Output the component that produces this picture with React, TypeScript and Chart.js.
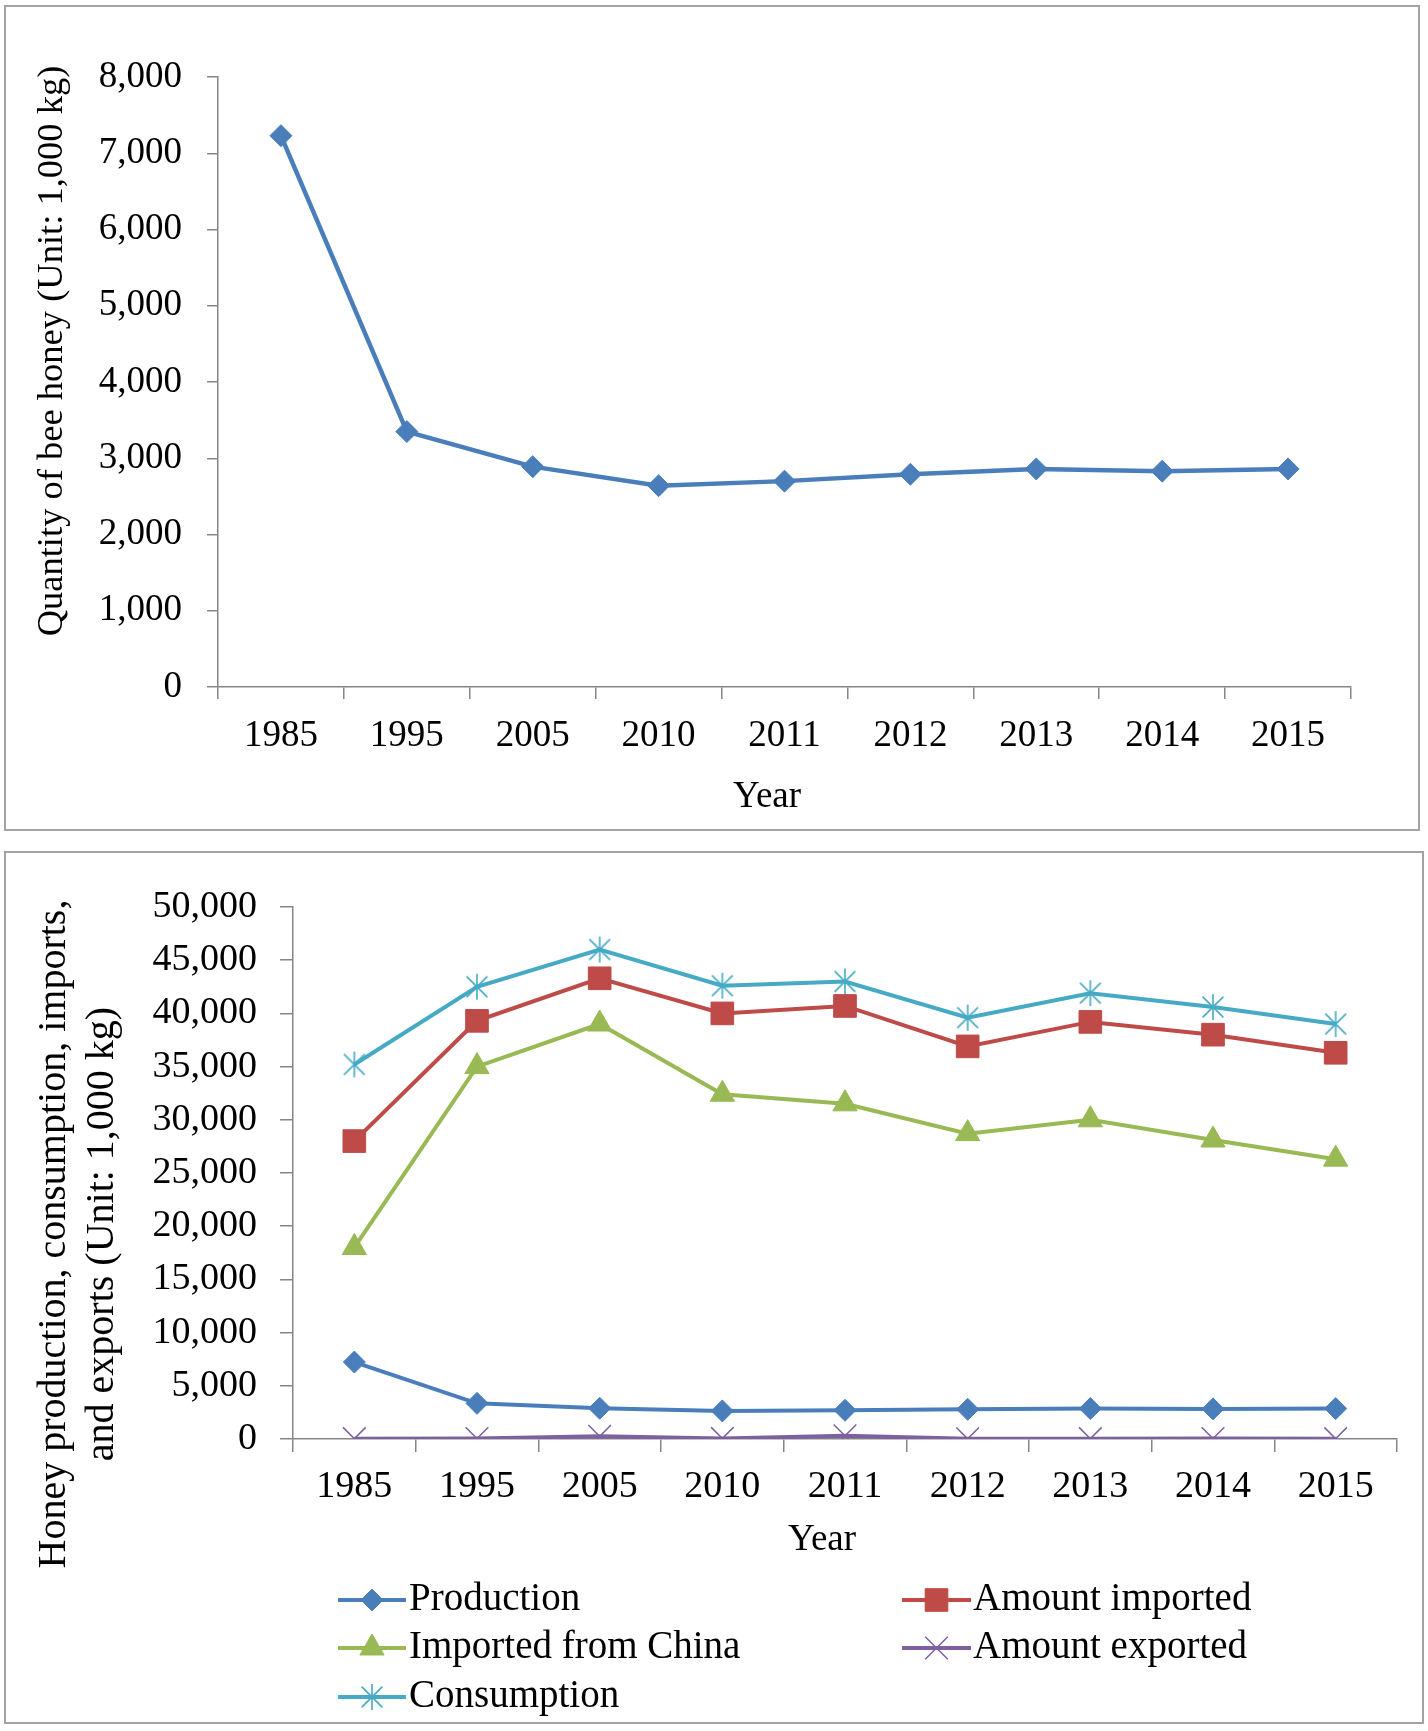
import React, { useEffect, useRef } from 'react';
import { Chart, registerables } from 'chart.js';
import { drawPoint } from 'chart.js/helpers';

Chart.register(...registerables);

// ---------------- DATA ----------------
const years = ['1985', '1995', '2005', '2010', '2011', '2012', '2013', '2014', '2015'];
const production = [7230, 3350, 2890, 2640, 2700, 2790, 2860, 2830, 2860];
const amountImported = [28000, 39300, 43300, 40000, 40700, 36900, 39200, 38000, 36300];
const importedFromChina = [18000, 35000, 39000, 32400, 31500, 28700, 30000, 28100, 26300];
const amountExported = [30, 40, 250, 50, 300, 20, 30, 40, 30];
const consumption = [35200, 42500, 46000, 42600, 43000, 39600, 41900, 40600, 39000];

const topYMax = 8000;
const topYStep = 1000;
const bottomYMax = 50000;
const bottomYStep = 5000;

const topYTitle = 'Quantity of bee honey (Unit: 1,000 kg)';
const bottomYTitle = ['Honey production, consumption, imports,', 'and exports (Unit: 1,000 kg)'];
const xTitle = 'Year';
const seriesNames = ['Production', 'Amount imported', 'Imported from China', 'Amount exported', 'Consumption'];

// ---------------- STYLE ----------------
const SERIF = '"Liberation Serif", "Times New Roman", Times, serif';
const AXIS = '#868686';
const BLUE = '#4A7EBB';
const RED = '#BE4B48';
const GREEN = '#98B954';
const PURPLE = '#7D60A0';
const CYAN = '#46AAC5';

function makeAsterisk(color: string, r: number, lw: number): HTMLCanvasElement {
  const c = document.createElement('canvas');
  const s = Math.ceil(2 * r + lw * 2 + 2);
  c.width = s;
  c.height = s;
  const ctx = c.getContext('2d')!;
  ctx.strokeStyle = color;
  ctx.lineWidth = lw;
  const m = s / 2;
  const d = r * 0.8;
  ctx.beginPath();
  ctx.moveTo(m, m - r);
  ctx.lineTo(m, m + r);
  ctx.moveTo(m - d, m - d);
  ctx.lineTo(m + d, m + d);
  ctx.moveTo(m + d, m - d);
  ctx.lineTo(m - d, m + d);
  ctx.stroke();
  return c;
}

const fmt = (v: any) => Number(v).toLocaleString('en-US');

const customLegend = {
  id: 'customLegend',
  afterDraw(chart: any, _args: any, opts: any) {
    if (!opts || !opts.items) return;
    const ctx = chart.ctx;
    ctx.save();
    opts.items.forEach((it: any) => {
      const ds = chart.data.datasets[it.index];
      ctx.strokeStyle = ds.borderColor;
      ctx.lineWidth = ds.borderWidth;
      ctx.beginPath();
      ctx.moveTo(it.x1, it.y);
      ctx.lineTo(it.x2, it.y);
      ctx.stroke();
      ctx.fillStyle = ds.pointBackgroundColor;
      ctx.strokeStyle = ds.pointBorderColor;
      ctx.lineWidth = ds.pointBorderWidth;
      drawPoint(ctx, { pointStyle: ds.pointStyle, radius: ds.pointRadius, borderWidth: ds.pointBorderWidth, rotation: 0 } as any, (it.x1 + it.x2) / 2, it.y);
      ctx.fillStyle = '#000';
      ctx.font = `39px ${SERIF}`;
      ctx.textAlign = 'left';
      ctx.textBaseline = 'middle';
      ctx.fillText(ds.label, it.tx, it.y);
    });
    ctx.restore();
  },
};

const axisTitles = {
  id: 'axisTitles',
  afterDraw(chart: any, _args: any, opts: any) {
    if (!opts || !opts.items) return;
    const ctx = chart.ctx;
    opts.items.forEach((it: any) => {
      ctx.save();
      ctx.translate(it.x, it.y);
      ctx.rotate(it.rotation || 0);
      ctx.font = `${it.size}px ${SERIF}`;
      ctx.fillStyle = '#000';
      ctx.textAlign = 'center';
      ctx.textBaseline = 'middle';
      ctx.fillText(it.text, 0, 0);
      ctx.restore();
    });
  },
};

function TopChart() {
  const ref = useRef<HTMLCanvasElement>(null);
  useEffect(() => {
    const chart = new Chart(ref.current!, {
      type: 'line',
      data: {
        labels: years,
        datasets: [
          {
            label: seriesNames[0],
            data: production,
            borderColor: BLUE,
            backgroundColor: BLUE,
            borderWidth: 4.5,
            pointStyle: 'rectRot',
            pointRadius: 11,
            pointBackgroundColor: BLUE,
            pointBorderColor: BLUE,
            pointBorderWidth: 1,
            tension: 0,
          },
        ],
      },
      options: {
        responsive: false,
        animation: false,
        devicePixelRatio: 1,
        layout: { padding: { top: 69, right: 67, bottom: 0, left: 0 } },
        plugins: {
          legend: { display: false },
          tooltip: { enabled: false },
          axisTitles: {
            items: [
              { text: topYTitle, x: 45, y: 343, rotation: -Math.PI / 2, size: 36.5 },
              { text: xTitle, x: 760, y: 789, size: 37 },
            ],
          },
        },
        scales: {
          x: {
            offset: true,
            grid: { offset: true, drawOnChartArea: false, drawTicks: true, tickLength: 12, color: AXIS, lineWidth: 1.5 },
            border: { color: AXIS, width: 1.5 },
            ticks: { color: '#000', font: { family: SERIF, size: 37 }, padding: 15, maxRotation: 0, autoSkip: false },
            title: { display: false },
            afterFit: (s: any) => { s.height = 141; },
          },
          y: {
            min: 0,
            max: topYMax,
            grid: { drawOnChartArea: false, drawTicks: true, tickLength: 11, color: AXIS, lineWidth: 1.5 },
            border: { color: AXIS, width: 1.5 },
            ticks: { stepSize: topYStep, callback: fmt, color: '#000', font: { family: SERIF, size: 37 }, padding: 25 },
            title: { display: false },
            afterFit: (s: any) => { s.width = 211; },
          },
        },
      } as any,
      plugins: [axisTitles as any],
    });
    return () => chart.destroy();
  }, []);
  return (
    <canvas
      ref={ref}
      width={1411}
      height={820}
      style={{ position: 'absolute', left: 7, top: 8, width: 1411, height: 820 }}
    />
  );
}

function BottomChart() {
  const ref = useRef<HTMLCanvasElement>(null);
  useEffect(() => {
    const star = makeAsterisk(CYAN, 13, 1.6);
    const mk = (label: string, data: number[], color: string, style: any, radius: number, bw = 4) => ({
      label,
      data,
      borderColor: color,
      backgroundColor: color,
      borderWidth: bw,
      pointStyle: style,
      pointRadius: radius,
      pointBackgroundColor: color,
      pointBorderColor: color,
      pointBorderWidth: style === 'crossRot' ? 1.5 : 1,
      tension: 0,
    });
    const chart = new Chart(ref.current!, {
      type: 'line',
      data: {
        labels: years,
        datasets: [
          mk(seriesNames[0], production, BLUE, 'rectRot', 11),
          mk(seriesNames[1], amountImported, RED, 'rect', 16),
          mk(seriesNames[2], importedFromChina, GREEN, 'triangle', 14),
          mk(seriesNames[3], amountExported, PURPLE, 'crossRot', 16),
          mk(seriesNames[4], consumption, CYAN, star, 13),
        ],
      },
      options: {
        responsive: false,
        animation: false,
        devicePixelRatio: 1,
        layout: { padding: { top: 53, right: 25, bottom: 160, left: 0 } },
        plugins: {
          legend: { display: false },
          tooltip: { enabled: false },
          customLegend: {
            items: [
              { index: 0, x1: 331, x2: 399, tx: 402, y: 746 },
              { index: 1, x1: 895, x2: 964, tx: 966, y: 746 },
              { index: 2, x1: 331, x2: 399, tx: 402, y: 794 },
              { index: 3, x1: 895, x2: 964, tx: 966, y: 794 },
              { index: 4, x1: 331, x2: 399, tx: 402, y: 843 },
            ],
          },
          axisTitles: {
            items: [
              { text: bottomYTitle[0], x: 47, y: 380, rotation: -Math.PI / 2, size: 40 },
              { text: bottomYTitle[1], x: 95, y: 380, rotation: -Math.PI / 2, size: 40 },
              { text: xTitle, x: 815, y: 686, size: 37 },
            ],
          },
        },
        scales: {
          x: {
            offset: true,
            grid: { offset: true, drawOnChartArea: false, drawTicks: true, tickLength: 13, color: AXIS, lineWidth: 1.5 },
            border: { color: AXIS, width: 1.5 },
            ticks: { color: '#000', font: { family: SERIF, size: 38 }, padding: 12, maxRotation: 0, autoSkip: false },
            title: { display: false },
            afterFit: (s: any) => { s.height = 123; },
          },
          y: {
            min: 0,
            max: bottomYMax,
            grid: { drawOnChartArea: false, drawTicks: true, tickLength: 13, color: AXIS, lineWidth: 1.5 },
            border: { color: AXIS, width: 1.5 },
            ticks: { stepSize: bottomYStep, callback: fmt, color: '#000', font: { family: SERIF, size: 38 }, padding: 23 },
            title: { display: false },
            afterFit: (s: any) => { s.width = 286; },
          },
        },
      } as any,
      plugins: [customLegend as any, axisTitles as any],
    });
    return () => chart.destroy();
  }, []);
  return (
    <canvas
      ref={ref}
      width={1415}
      height={868}
      style={{ position: 'absolute', left: 7, top: 854, width: 1415, height: 868 }}
    />
  );
}

export default function App() {
  const panel = (l: number, t: number, w: number, h: number): React.CSSProperties => ({
    position: 'absolute',
    left: l,
    top: t,
    width: w,
    height: h,
    boxSizing: 'border-box',
    border: '2px solid #a3a3a3',
    background: '#fff',
  });
  return (
    <div style={{ position: 'absolute', left: 0, top: 0, width: 1428, height: 1731, background: '#fff' }}>
      <div style={panel(4, 5, 1416, 826)} />
      <div style={panel(4, 851, 1420, 873)} />
      <TopChart />
      <BottomChart />
    </div>
  );
}
